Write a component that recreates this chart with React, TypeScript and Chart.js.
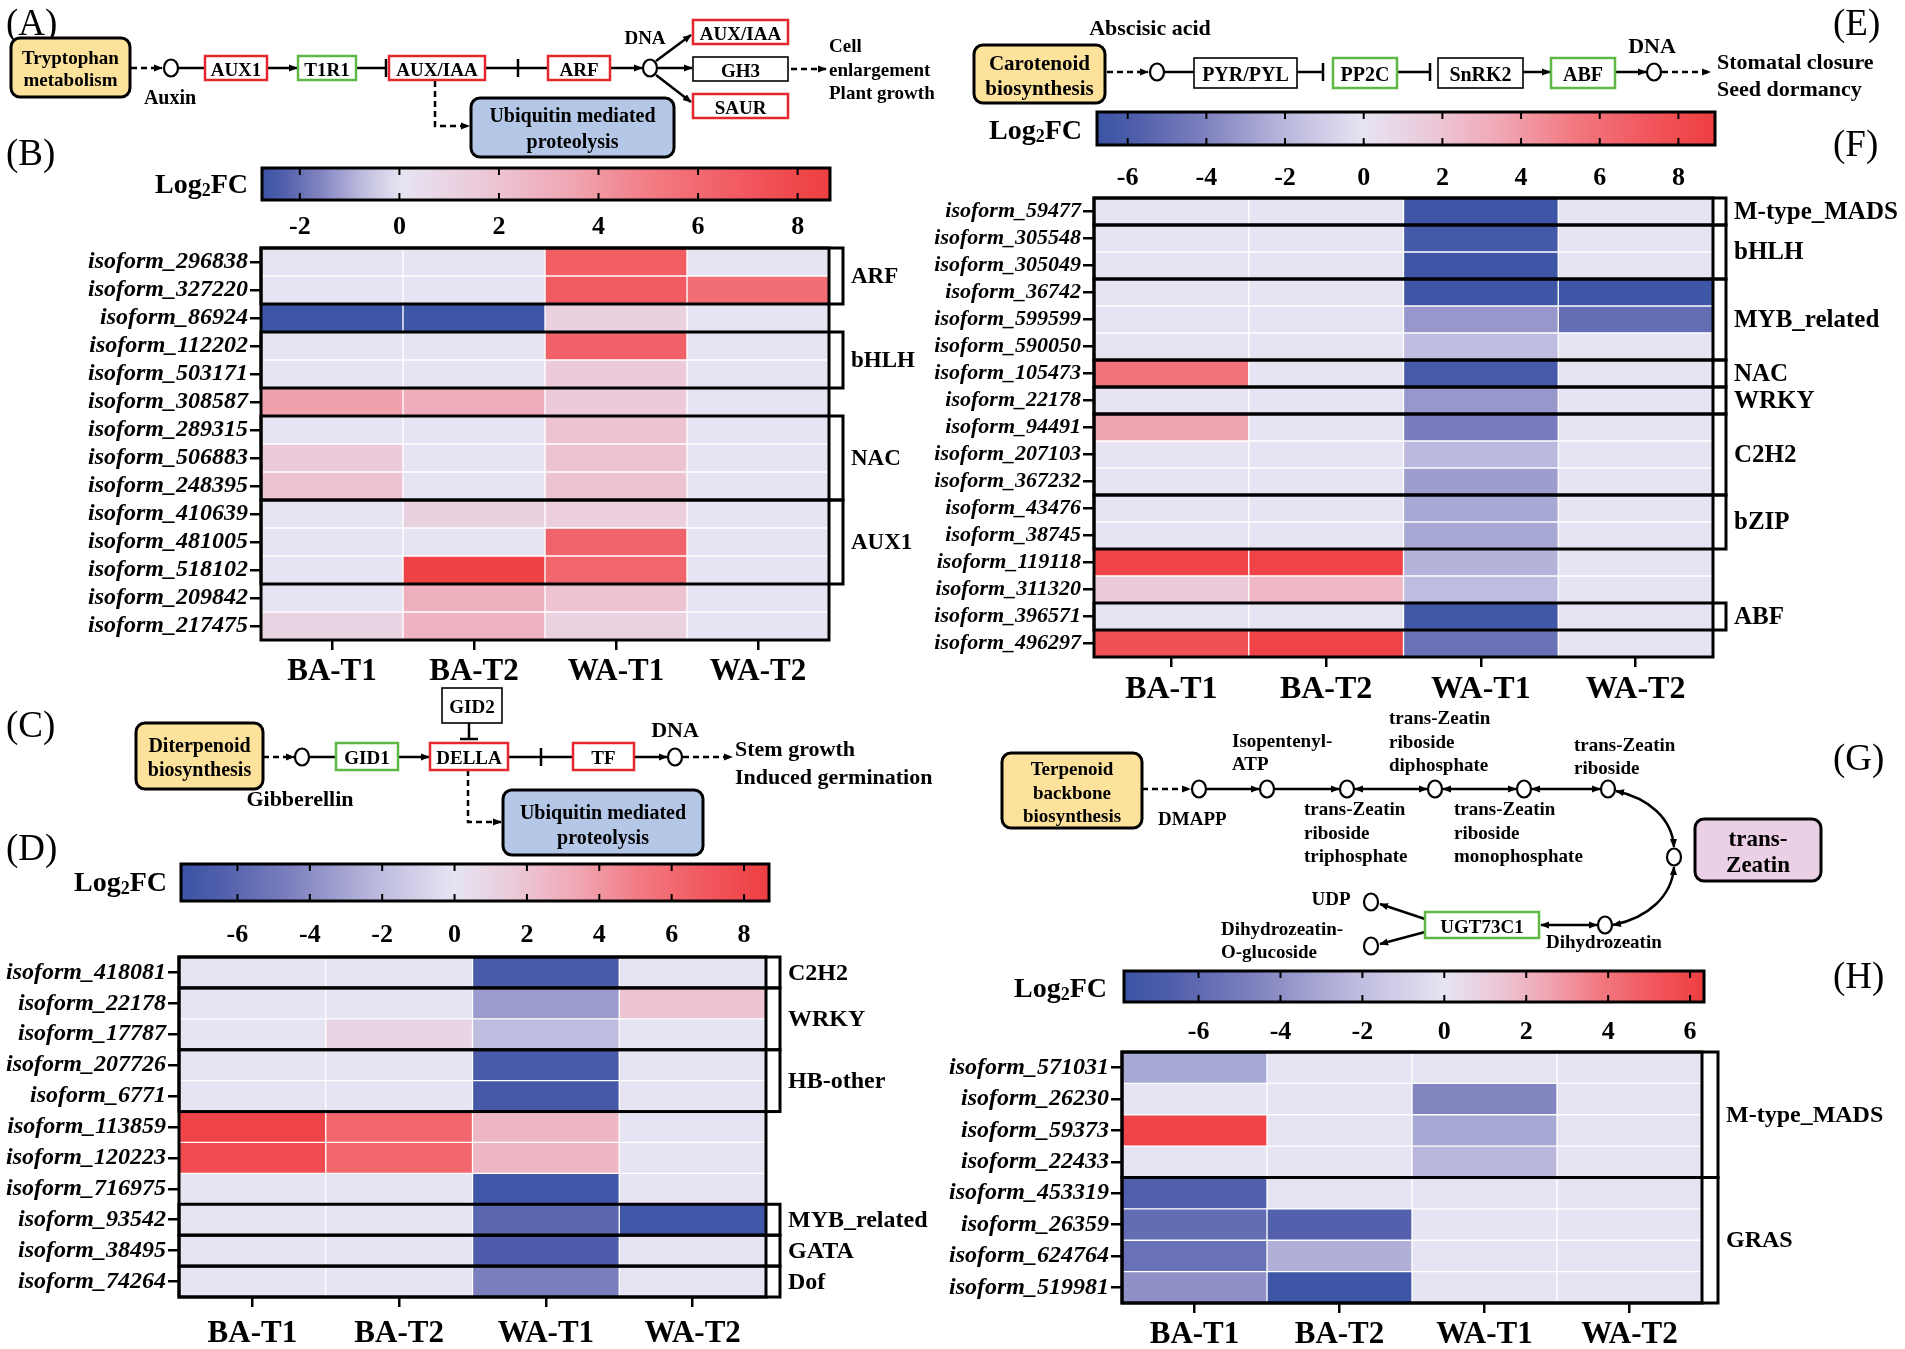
import React, { useEffect, useRef } from "react";
import { Chart, registerables } from "chart.js";
Chart.register(...registerables);

const FONT = '"Liberation Serif", "Times New Roman", Times, serif';

const columns = ["BA-T1", "BA-T2", "WA-T1", "WA-T2"];

// ---------- Panel B (auxin) ----------
const rowsB = ["isoform_296838", "isoform_327220", "isoform_86924", "isoform_112202", "isoform_503171", "isoform_308587", "isoform_289315", "isoform_506883", "isoform_248395", "isoform_410639", "isoform_481005", "isoform_518102", "isoform_209842", "isoform_217475"];
const bBAT1 = [0, 0, -2.7, 0, 0, 3.6, 0, 1.6, 2, 0, 0, 0, 0, 1];
const bBAT2 = [0, 0, -2.7, 0, 0, 3.1, 0, 0, 0, 1.2, 0, 8.4, 2.9, 2.8];
const bWAT1 = [6.6, 6.8, 1.2, 6.4, 1.6, 1.6, 2, 2, 2, 1.3, 6.3, 6.2, 2, 1.1];
const bWAT2 = [0, 5.8, 0, 0, 0, 0, 0, 0, 0, 0, 0, 0, 0, 0];
const groupNamesB = ["ARF", "bHLH", "NAC", "AUX1"];
const groupStartB = [0, 3, 6, 9];
const groupEndB = [1, 4, 8, 11];
const rangeB = [-2.76, 8.65];
const ticksB = [-2, 0, 2, 4, 6, 8];

// ---------- Panel F (abscisic acid) ----------
const rowsF = ["isoform_59477", "isoform_305548", "isoform_305049", "isoform_36742", "isoform_599599", "isoform_590050", "isoform_105473", "isoform_22178", "isoform_94491", "isoform_207103", "isoform_367232", "isoform_43476", "isoform_38745", "isoform_119118", "isoform_311320", "isoform_396571", "isoform_496297"];
const fBAT1 = [0, 0, 0, 0, 0, 0, 5.6, 0, 3.6, 0, 0, 0, 0, 8.6, 1.6, 0, 7.6];
const fBAT2 = [0, 0, 0, 0, 0, 0, 0, 0, 0, 0, 0, 0, 0, 8.6, 2.6, 0, 8.6];
const fWAT1 = [-6.6, -6.3, -6.6, -6.6, -3.2, -1.8, -6.2, -3.2, -4.2, -2, -3, -2.6, -2.6, -2.2, -1.8, -6.4, -4.8];
const fWAT2 = [0, 0, 0, -6.6, -5, 0, 0, 0, 0, 0, 0, 0, 0, 0, 0, 0, 0];
const groupNamesF = ["M-type_MADS", "bHLH", "MYB_related", "NAC", "WRKY", "C2H2", "bZIP", "ABF"];
const groupStartF = [0, 1, 3, 6, 7, 8, 11, 15];
const groupEndF = [0, 2, 5, 6, 7, 10, 12, 15];
const rangeF = [-6.78, 8.93];
const ticksF = [-6, -4, -2, 0, 2, 4, 6, 8];

// ---------- Panel D (gibberellin) ----------
const rowsD = ["isoform_418081", "isoform_22178", "isoform_17787", "isoform_207726", "isoform_6771", "isoform_113859", "isoform_120223", "isoform_716975", "isoform_93542", "isoform_38495", "isoform_74264"];
const dBAT1 = [0, 0, 0, 0, 0, 8.3, 7.8, 0, 0, 0, 0];
const dBAT2 = [0, 0, 1, 0, 0, 6.2, 6.2, 0, 0, 0, 0];
const dWAT1 = [-6.8, -3.4, -2, -6.8, -7, 2.6, 2.6, -7.2, -6, -6.6, -4.6];
const dWAT2 = [0, 2, 0, 0, 0, 0, 0, 0, -7.3, 0, 0];
const groupNamesD = ["C2H2", "WRKY", "HB-other", "MYB_related", "GATA", "Dof"];
const groupStartD = [0, 1, 3, 8, 9, 10];
const groupEndD = [0, 2, 4, 8, 9, 10];
const rangeD = [-7.56, 8.69];
const ticksD = [-6, -4, -2, 0, 2, 4, 6, 8];

// ---------- Panel H (zeatin) ----------
const rowsH = ["isoform_571031", "isoform_26230", "isoform_59373", "isoform_22433", "isoform_453319", "isoform_26359", "isoform_624764", "isoform_519981"];
const hBAT1 = [-3, 0, 6, 0, -6.6, -5.8, -5.5, -4];
const hBAT2 = [0, 0, 0, 0, 0, -6.5, -2.7, -7.6];
const hWAT1 = [0, -4.5, -3, -2.4, 0, 0, 0, 0];
const hWAT2 = [0, 0, 0, 0, 0, 0, 0, 0];
const groupNamesH = ["M-type_MADS", "GRAS"];
const groupStartH = [0, 4];
const groupEndH = [3, 7];
const rangeH = [-7.82, 6.34];
const ticksH = [-6, -4, -2, 0, 2, 4, 6];

// ---------- colour map ----------
const NEG_STOPS: [number, number[]][] = [[0, [230, 228, 242]], [0.3, [185, 183, 220]], [0.6, [125, 128, 190]], [0.85, [80, 95, 172]], [1, [58, 84, 164]]];
const POS_STOPS: [number, number[]][] = [[0, [230, 228, 242]], [0.2, [236, 200, 216]], [0.4, [240, 165, 178]], [0.6, [242, 120, 128]], [0.8, [241, 88, 94]], [1, [238, 62, 66]]];

function interp(stops: [number, number[]][], t: number) {
  for (let i = 1; i < stops.length; i++) {
    if (t <= stops[i][0]) {
      const [t0, c0] = stops[i - 1];
      const [t1, c1] = stops[i];
      const f = (t - t0) / (t1 - t0);
      const c = c0.map((v, k) => Math.round(v + (c1[k] - v) * f));
      return `rgb(${c[0]},${c[1]},${c[2]})`;
    }
  }
  const c = stops[stops.length - 1][1];
  return `rgb(${c[0]},${c[1]},${c[2]})`;
}
function colorFor(v: number, min: number, max: number) {
  if (v < 0) return interp(NEG_STOPS, Math.min(1, v / min));
  return interp(POS_STOPS, Math.min(1, v / max));
}

// ---------- heatmap chart ----------
function Heatmap(p: any) {
  const ref = useRef<HTMLCanvasElement>(null);
  const padTop = 22;
  const width = Math.round(p.yAxisW + (p.R - p.L) + p.padRight);
  const height = Math.round(padTop + (p.B - p.T) + p.xAxisH);
  useEffect(() => {
    const [min, max] = p.range;
    const datasets = p.values.map((col: number[], j: number) => ({
      label: columns[j],
      data: p.rows.map(() => [j, j + 1]),
      backgroundColor: col.map((v) => colorFor(v, min, max)),
      borderColor: "#ffffff",
      borderWidth: 1,
      borderSkipped: false,
      grouped: false,
      barPercentage: 1,
      categoryPercentage: 1,
    }));
    const frame = {
      id: "frame",
      afterDatasetsDraw(chart: any) {
        const { ctx, chartArea: a, scales } = chart;
        const y = scales.y;
        const half = (y.getPixelForValue(1) - y.getPixelForValue(0)) / 2;
        const br = a.right + p.bracketW;
        ctx.save();
        ctx.strokeStyle = "#000";
        ctx.lineWidth = 3;
        ctx.strokeRect(a.left, a.top, a.right - a.left, a.bottom - a.top);
        ctx.font = `bold ${p.groupFont}px ${FONT}`;
        ctx.fillStyle = "#000";
        ctx.textBaseline = "middle";
        ctx.textAlign = "left";
        p.groupNames.forEach((name: string, i: number) => {
          const top = y.getPixelForValue(p.groupStart[i]) - half;
          const bot = y.getPixelForValue(p.groupEnd[i]) + half;
          ctx.strokeRect(a.left, top, br - a.left, bot - top);
          ctx.fillText(name, br + 8, (top + bot) / 2 + 1);
        });
        ctx.restore();
      },
    };
    const chart = new Chart(ref.current as HTMLCanvasElement, {
      type: "bar",
      data: { labels: p.rows, datasets },
      options: {
        indexAxis: "y",
        animation: false,
        responsive: false,
        maintainAspectRatio: false,
        layout: { padding: { left: 0, right: p.padRight, top: padTop, bottom: 0 } },
        plugins: { legend: { display: false }, tooltip: { enabled: false }, title: { display: false } },
        scales: {
          x: {
            type: "linear",
            min: 0,
            max: 4,
            afterBuildTicks: (ax: any) => {
              ax.ticks = columns.map((_, i) => ({ value: i + 0.5 }));
            },
            afterFit: (ax: any) => {
              ax.height = p.xAxisH;
            },
            ticks: {
              callback: (v: any) => columns[Math.floor(Number(v))],
              font: { family: FONT, size: p.colFont, weight: "bold" },
              color: "#000",
              padding: p.xPad,
              maxRotation: 0,
              autoSkip: false,
            },
            grid: { drawOnChartArea: false, drawTicks: true, tickLength: 10, color: "#000", lineWidth: 2.5 },
            border: { display: false },
          },
          y: {
            type: "category",
            afterFit: (ax: any) => {
              ax.width = p.yAxisW;
            },
            ticks: {
              font: { family: FONT, size: p.rowFont, weight: "bold", style: "italic" },
              color: "#000",
              padding: 2,
              autoSkip: false,
            },
            grid: { drawOnChartArea: false, drawTicks: true, tickLength: 11, color: "#000", lineWidth: 2.5, offset: false },
            border: { display: false },
          },
        },
      } as any,
      plugins: [frame],
    });
    return () => chart.destroy();
  }, []);
  return (
    <canvas
      ref={ref}
      width={width}
      height={height}
      style={{ position: "absolute", left: p.L - p.yAxisW, top: p.T - padTop, width, height }}
    />
  );
}

// ---------- colour bar chart ----------
function ColorBar(p: any) {
  const ref = useRef<HTMLCanvasElement>(null);
  const pad = 10;
  const width = Math.round(p.R - p.L + 2 * pad);
  const height = Math.round(pad + (p.B - p.T) + p.axisH);
  useEffect(() => {
    const [min, max] = p.range;
    const frame = {
      id: "cbframe",
      afterDatasetsDraw(chart: any) {
        const { ctx, chartArea: a, scales } = chart;
        ctx.save();
        ctx.strokeStyle = "#000";
        ctx.lineWidth = 2;
        p.ticks.forEach((v: number) => {
          const x = scales.x.getPixelForValue(v);
          ctx.beginPath();
          ctx.moveTo(x, a.top);
          ctx.lineTo(x, a.top + 7);
          ctx.moveTo(x, a.bottom);
          ctx.lineTo(x, a.bottom - 7);
          ctx.stroke();
        });
        ctx.lineWidth = 3;
        ctx.strokeRect(a.left, a.top, a.right - a.left, a.bottom - a.top);
        ctx.restore();
      },
    };
    const chart = new Chart(ref.current as HTMLCanvasElement, {
      type: "bar",
      data: {
        labels: ["Log2FC"],
        datasets: [
          {
            data: [[min, max]],
            backgroundColor: (c: any) => {
              const ch = c.chart;
              const xs = ch.scales.x;
              if (!xs || !ch.chartArea) return "#ddd";
              const x0 = xs.getPixelForValue(min);
              const x1 = xs.getPixelForValue(max);
              const g = ch.ctx.createLinearGradient(x0, 0, x1, 0);
              const n = 60;
              const stops: number[] = [];
              for (let i = 0; i <= n; i++) stops.push(min + ((max - min) * i) / n);
              stops.push(0);
              stops.sort((a, b) => a - b);
              stops.forEach((v) => g.addColorStop((v - min) / (max - min), colorFor(v, min, max)));
              return g;
            },
            borderWidth: 0,
            barPercentage: 1,
            categoryPercentage: 1,
          },
        ],
      },
      options: {
        indexAxis: "y",
        animation: false,
        responsive: false,
        maintainAspectRatio: false,
        layout: { padding: { left: pad, right: pad, top: pad, bottom: 0 } },
        plugins: { legend: { display: false }, tooltip: { enabled: false } },
        scales: {
          y: { display: false },
          x: {
            type: "linear",
            min,
            max,
            afterBuildTicks: (ax: any) => {
              ax.ticks = p.ticks.map((v: number) => ({ value: v }));
            },
            afterFit: (ax: any) => {
              ax.height = p.axisH;
            },
            ticks: {
              font: { family: FONT, size: 26, weight: "bold" },
              color: "#000",
              padding: p.tickPad,
              maxRotation: 0,
              autoSkip: false,
            },
            grid: { display: false, drawTicks: false },
            border: { display: false },
          },
        },
      } as any,
      plugins: [frame],
    });
    return () => chart.destroy();
  }, []);
  return (
    <canvas
      ref={ref}
      width={width}
      height={height}
      style={{ position: "absolute", left: p.L - pad, top: p.T - pad, width, height }}
    />
  );
}

// ---------- SVG diagram helpers ----------
const YEL = "#FDE29B";
const BLU = "#B4C7E7";
const PNK = "#EBCFE4";
const RED = "#E5262C";
const GRN = "#5DB845";

function Txt({ x, y, s = 19, a = "middle", w = "bold", children }: any) {
  return (
    <text x={x} y={y} fontSize={s} fontWeight={w} textAnchor={a} dominantBaseline="central" fontFamily={FONT} fill="#000">
      {children}
    </text>
  );
}
function Box({ x1, x2, y1, y2, c = "#000", sw = 2.5, label, s = 19 }: any) {
  return (
    <g>
      <rect x={x1} y={y1} width={x2 - x1} height={y2 - y1} fill="#fff" stroke={c} strokeWidth={sw} />
      <Txt x={(x1 + x2) / 2} y={(y1 + y2) / 2 + 1} s={s}>{label}</Txt>
    </g>
  );
}
function RBox({ x, y, w, h, fill, lines, ys, s }: any) {
  return (
    <g>
      <rect x={x} y={y} width={w} height={h} rx={9} fill={fill} stroke="#000" strokeWidth={3} />
      {lines.map((l: string, i: number) => (
        <Txt key={i} x={x + w / 2} y={ys[i]} s={s}>{l}</Txt>
      ))}
    </g>
  );
}
function Node({ x, y }: any) {
  return <ellipse cx={x} cy={y} rx={7} ry={8.5} fill="#fff" stroke="#000" strokeWidth={2.2} />;
}
function Ln({ x1, y1, x2, y2, end = false, start = false, dash = false, sw = 2.5 }: any) {
  return (
    <line
      x1={x1}
      y1={y1}
      x2={x2}
      y2={y2}
      stroke="#000"
      strokeWidth={sw}
      strokeDasharray={dash ? "6 4" : undefined}
      markerEnd={end ? "url(#ah)" : undefined}
      markerStart={start ? "url(#ah)" : undefined}
    />
  );
}
function Log2FC({ x, y }: any) {
  return (
    <text x={x} y={y} fontSize={28} fontWeight="bold" textAnchor="end" dominantBaseline="central" fontFamily={FONT}>
      Log<tspan fontSize={18} dy={7}>2</tspan><tspan dy={-7}>FC</tspan>
    </text>
  );
}
function PL({ x, y, children }: any) {
  return <Txt x={x} y={y} s={37} a="start" w="normal">{children}</Txt>;
}

function Diagrams() {
  return (
    <svg width={1905} height={1349} style={{ position: "absolute", left: 0, top: 0, pointerEvents: "none" }}>
      <defs>
        <marker id="ah" viewBox="0 0 10 10" refX="9" refY="5" markerWidth="9" markerHeight="9" markerUnits="userSpaceOnUse" orient="auto-start-reverse">
          <path d="M0,1 L10,5 L0,9 z" fill="#000" />
        </marker>
      </defs>
      {/* panel letters */}
      <PL x={6} y={22}>(A)</PL>
      <PL x={6} y={152}>(B)</PL>
      <PL x={6} y={724}>(C)</PL>
      <PL x={6} y={847}>(D)</PL>
      <PL x={1833} y={22}>(E)</PL>
      <PL x={1833} y={143}>(F)</PL>
      <PL x={1833} y={757}>(G)</PL>
      <PL x={1833} y={975}>(H)</PL>

      {/* Log2FC labels */}
      <Log2FC x={248} y={183} />
      <Log2FC x={1082} y={129} />
      <Log2FC x={167} y={881} />
      <Log2FC x={1107} y={987} />

      {/* ----- Panel A ----- */}
      <Ln x1={131} y1={68} x2={162} y2={68} dash end />
      <Ln x1={178} y1={68} x2={205} y2={68} />
      <Ln x1={267} y1={68} x2={297} y2={68} end />
      <Ln x1={356} y1={68} x2={386} y2={68} />
      <Ln x1={386} y1={59} x2={386} y2={77} />
      <Ln x1={485} y1={68} x2={548} y2={68} />
      <Ln x1={518} y1={59} x2={518} y2={77} />
      <Ln x1={610} y1={68} x2={642} y2={68} end />
      <Ln x1={656} y1={61} x2={691} y2={35} end />
      <Ln x1={658} y1={68} x2={692} y2={68} end />
      <Ln x1={656} y1={75} x2={691} y2={102} end />
      <Ln x1={791} y1={69} x2={826} y2={69} dash end />
      <polyline points="435,81 435,126 469,126" fill="none" stroke="#000" strokeWidth={2.5} strokeDasharray="6 4" markerEnd="url(#ah)" />
      <RBox x={11} y={38} w={119} h={59} fill={YEL} lines={["Tryptophan", "metabolism"]} ys={[57, 79]} s={19} />
      <Node x={171} y={68} />
      <Box x1={205} x2={267} y1={56} y2={80} c={RED} label="AUX1" />
      <Box x1={298} x2={356} y1={56} y2={80} c={GRN} label="T1R1" />
      <Box x1={389} x2={485} y1={56} y2={80} c={RED} label="AUX/IAA" />
      <Box x1={548} x2={610} y1={56} y2={80} c={RED} label="ARF" />
      <Node x={650} y={68} />
      <Box x1={693} x2={788} y1={20} y2={44} c={RED} label="AUX/IAA" />
      <Box x1={693} x2={788} y1={57} y2={81} c="#000" sw={1.6} label="GH3" />
      <Box x1={693} x2={788} y1={94} y2={118} c={RED} label="SAUR" />
      <Txt x={645} y={37} s={19}>DNA</Txt>
      <Txt x={829} y={45} s={19} a="start">Cell</Txt>
      <Txt x={829} y={69} s={19} a="start">enlargement</Txt>
      <Txt x={829} y={92} s={19} a="start">Plant growth</Txt>
      <Txt x={170} y={97} s={20}>Auxin</Txt>
      <RBox x={471} y={98} w={203} h={59} fill={BLU} lines={["Ubiquitin mediated", "proteolysis"]} ys={[115, 141]} s={20} />

      {/* ----- Panel E ----- */}
      <Txt x={1150} y={27} s={22}>Abscisic acid</Txt>
      <Ln x1={1107} y1={72} x2={1148} y2={72} dash end />
      <Ln x1={1164} y1={72} x2={1194} y2={72} />
      <Ln x1={1297} y1={72} x2={1323} y2={72} />
      <Ln x1={1323} y1={63} x2={1323} y2={81} />
      <Ln x1={1397} y1={72} x2={1430} y2={72} />
      <Ln x1={1430} y1={63} x2={1430} y2={81} />
      <Ln x1={1523} y1={72} x2={1550} y2={72} end />
      <Ln x1={1615} y1={72} x2={1646} y2={72} end />
      <Ln x1={1662} y1={72} x2={1710} y2={72} dash end />
      <RBox x={974} y={45} w={131} h={58} fill={YEL} lines={["Carotenoid", "biosynthesis"]} ys={[63, 88]} s={21} />
      <Node x={1157} y={72} />
      <Box x1={1194} x2={1297} y1={58} y2={88} c="#000" sw={1.6} label="PYR/PYL" s={20} />
      <Box x1={1333} x2={1397} y1={58} y2={88} c={GRN} label="PP2C" s={20} />
      <Box x1={1438} x2={1523} y1={58} y2={88} c="#000" sw={1.6} label="SnRK2" s={20} />
      <Box x1={1551} x2={1615} y1={58} y2={88} c={GRN} label="ABF" s={20} />
      <Node x={1654} y={72} />
      <Txt x={1652} y={45} s={22}>DNA</Txt>
      <Txt x={1717} y={61} s={22} a="start">Stomatal closure</Txt>
      <Txt x={1717} y={88} s={22} a="start">Seed dormancy</Txt>

      {/* ----- Panel C ----- */}
      <Ln x1={263} y1={757} x2={294} y2={757} dash end />
      <Ln x1={309} y1={757} x2={336} y2={757} />
      <Ln x1={398} y1={757} x2={429} y2={757} end />
      <Ln x1={508} y1={757} x2={573} y2={757} />
      <Ln x1={541} y1={748} x2={541} y2={766} />
      <Ln x1={634} y1={757} x2={667} y2={757} end />
      <Ln x1={683} y1={757} x2={732} y2={757} dash end />
      <Ln x1={469} y1={723} x2={469} y2={739} />
      <Ln x1={460} y1={739} x2={478} y2={739} />
      <polyline points="468,770 468,822 501,822" fill="none" stroke="#000" strokeWidth={2.5} strokeDasharray="6 4" markerEnd="url(#ah)" />
      <RBox x={136} y={723} w={127} h={66} fill={YEL} lines={["Diterpenoid", "biosynthesis"]} ys={[745, 769]} s={20} />
      <Node x={302} y={757} />
      <Box x1={336} x2={398} y1={743} y2={770} c={GRN} label="GID1" />
      <Box x1={430} x2={508} y1={743} y2={770} c={RED} label="DELLA" />
      <Box x1={573} x2={634} y1={743} y2={770} c={RED} label="TF" />
      <Box x1={442} x2={502} y1={688} y2={723} c="#000" sw={1.6} label="GID2" />
      <Node x={675} y={757} />
      <Txt x={675} y={729} s={22}>DNA</Txt>
      <Txt x={735} y={748} s={22} a="start">Stem growth</Txt>
      <Txt x={735} y={776} s={22} a="start">Induced germination</Txt>
      <Txt x={300} y={798} s={22}>Gibberellin</Txt>
      <RBox x={503} y={790} w={200} h={65} fill={BLU} lines={["Ubiquitin mediated", "proteolysis"]} ys={[812, 837]} s={20} />

      {/* ----- Panel G ----- */}
      <Ln x1={1142} y1={789} x2={1190} y2={789} dash end />
      <Ln x1={1207} y1={789} x2={1259} y2={789} end />
      <Ln x1={1275} y1={789} x2={1339} y2={789} end />
      <Ln x1={1355} y1={789} x2={1427} y2={789} start end />
      <Ln x1={1443} y1={789} x2={1516} y2={789} start end />
      <Ln x1={1532} y1={789} x2={1600} y2={789} start end />
      <path d="M1616,791 C1648,798 1672,818 1674,847" fill="none" stroke="#000" strokeWidth={2.5} markerStart="url(#ah)" markerEnd="url(#ah)" />
      <path d="M1674,867 C1672,896 1648,918 1613,925" fill="none" stroke="#000" strokeWidth={2.5} markerStart="url(#ah)" markerEnd="url(#ah)" />
      <Ln x1={1541} y1={925} x2={1597} y2={925} start end />
      <Ln x1={1425} y1={919} x2={1380} y2={904} end />
      <Ln x1={1425} y1={932} x2={1380} y2={944} end />
      <RBox x={1002} y={753} w={140} h={75} fill={YEL} lines={["Terpenoid", "backbone", "biosynthesis"]} ys={[768, 792, 815]} s={19} />
      {[1199, 1267, 1347, 1435, 1524, 1608].map((x) => (
        <Node key={x} x={x} y={789} />
      ))}
      <Node x={1674} y={857} />
      <Node x={1605} y={925} />
      <Node x={1371} y={902} />
      <Node x={1371} y={946} />
      <Box x1={1425} x2={1539} y1={912} y2={938} c={GRN} label="UGT73C1" />
      <Txt x={1158} y={818} a="start">DMAPP</Txt>
      <Txt x={1232} y={740} a="start">Isopentenyl-</Txt>
      <Txt x={1232} y={763} a="start">ATP</Txt>
      <Txt x={1389} y={717} a="start">trans-Zeatin</Txt>
      <Txt x={1389} y={741} a="start">riboside</Txt>
      <Txt x={1389} y={764} a="start">diphosphate</Txt>
      <Txt x={1304} y={808} a="start">trans-Zeatin</Txt>
      <Txt x={1304} y={832} a="start">riboside</Txt>
      <Txt x={1304} y={855} a="start">triphosphate</Txt>
      <Txt x={1454} y={808} a="start">trans-Zeatin</Txt>
      <Txt x={1454} y={832} a="start">riboside</Txt>
      <Txt x={1454} y={855} a="start">monophosphate</Txt>
      <Txt x={1574} y={744} a="start">trans-Zeatin</Txt>
      <Txt x={1574} y={767} a="start">riboside</Txt>
      <Txt x={1331} y={898}>UDP</Txt>
      <Txt x={1221} y={928} a="start">Dihydrozeatin-</Txt>
      <Txt x={1221} y={951} a="start">O-glucoside</Txt>
      <Txt x={1546} y={941} a="start">Dihydrozeatin</Txt>
      <RBox x={1695} y={819} w={126} h={62} fill={PNK} lines={["trans-", "Zeatin"]} ys={[838, 864]} s={23} />
    </svg>
  );
}

export default function App() {
  return (
    <div style={{ position: "absolute", left: 0, top: 0, width: 1905, height: 1349, background: "#fff", overflow: "hidden", fontFamily: FONT }}>
      <Heatmap rows={rowsB} values={[bBAT1, bBAT2, bWAT1, bWAT2]} range={rangeB} groupNames={groupNamesB} groupStart={groupStartB} groupEnd={groupEndB}
        L={261} R={829} T={248} B={640} yAxisW={261} padRight={111} xAxisH={55} bracketW={14} rowFont={24} groupFont={23} colFont={31} xPad={3} />
      <ColorBar range={rangeB} ticks={ticksB} L={262} R={830} T={168} B={200} axisH={45} tickPad={12} />

      <Heatmap rows={rowsF} values={[fBAT1, fBAT2, fWAT1, fWAT2]} range={rangeF} groupNames={groupNamesF} groupStart={groupStartF} groupEnd={groupEndF}
        L={1094} R={1713} T={198} B={657} yAxisW={175} padRight={192} xAxisH={55} bracketW={13} rowFont={22} groupFont={25} colFont={32} xPad={4} />
      <ColorBar range={rangeF} ticks={ticksF} L={1097} R={1715} T={112} B={145} axisH={50} tickPad={18} />

      <Heatmap rows={rowsD} values={[dBAT1, dBAT2, dWAT1, dWAT2]} range={rangeD} groupNames={groupNamesD} groupStart={groupStartD} groupEnd={groupEndD}
        L={179} R={765.5} T={957} B={1297} yAxisW={179} padRight={165} xAxisH={52} bracketW={14} rowFont={24} groupFont={24} colFont={31} xPad={8} />
      <ColorBar range={rangeD} ticks={ticksD} L={181} R={769} T={864} B={901} axisH={50} tickPad={19} />

      <Heatmap rows={rowsH} values={[hBAT1, hBAT2, hWAT1, hWAT2]} range={rangeH} groupNames={groupNamesH} groupStart={groupStartH} groupEnd={groupEndH}
        L={1121.5} R={1701} T={1052} B={1303} yAxisW={175} padRight={204} xAxisH={46} bracketW={16} rowFont={24} groupFont={24} colFont={31} xPad={3} />
      <ColorBar range={rangeH} ticks={ticksH} L={1124} R={1704} T={971} B={1002} axisH={45} tickPad={15} />

      <Diagrams />
    </div>
  );
}
